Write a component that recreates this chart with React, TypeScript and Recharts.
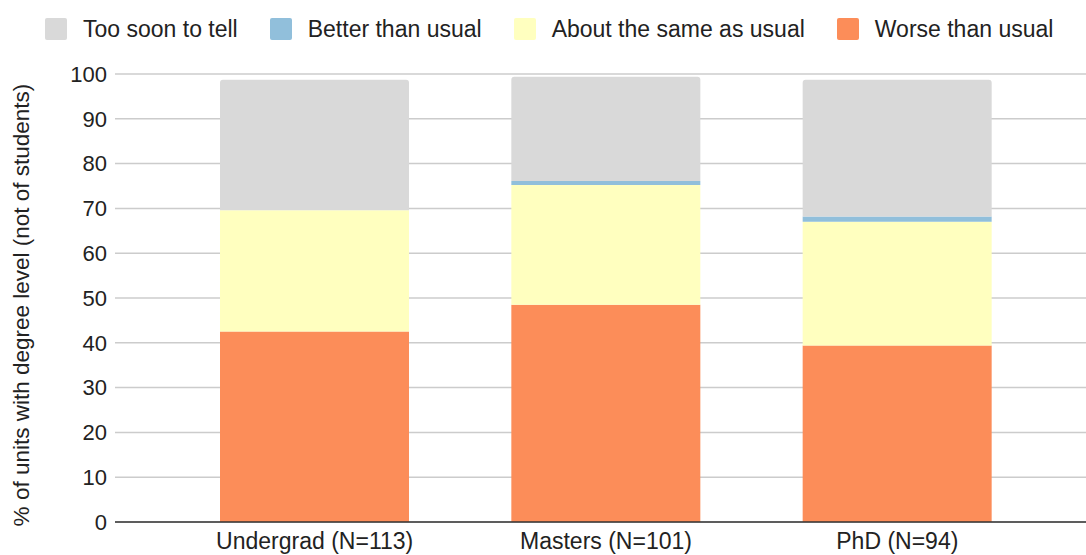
import React from 'react'
import { Bar, BarChart, CartesianGrid, Legend, XAxis, YAxis } from 'recharts'

const categories = ['Undergrad (N=113)', 'Masters (N=101)', 'PhD (N=94)']
const worseThanUsual = [42.5, 48.5, 39.4]
const aboutTheSame = [27.1, 26.7, 27.6]
const betterThanUsual = [0, 0.9, 1.2]
const tooSoonToTell = [29.1, 23.3, 30.5]
const yTicks = [0, 10, 20, 30, 40, 50, 60, 70, 80, 90, 100]

const FONT = '"Liberation Sans", Arial, Helvetica, sans-serif'
const TEXT = '#222222'

const colors = {
  tooSoon: '#d9d9d9',
  better: '#91bfdb',
  same: '#ffffbf',
  worse: '#fc8d59',
}

// legend reads left to right in this order (top of stack first)
const legendItems = [
  { key: 'tooSoon', label: 'Too soon to tell', color: colors.tooSoon },
  { key: 'better', label: 'Better than usual', color: colors.better },
  { key: 'same', label: 'About the same as usual', color: colors.same },
  { key: 'worse', label: 'Worse than usual', color: colors.worse },
]

const data = categories.map((name, i) => ({
  name,
  worse: worseThanUsual[i],
  same: aboutTheSame[i],
  better: betterThanUsual[i],
  tooSoon: tooSoonToTell[i],
}))

function TopLegend() {
  return (
    <div
      style={{
        height: 74,
        display: 'flex',
        alignItems: 'flex-start',
        paddingTop: 18,
        paddingLeft: 45,
        boxSizing: 'border-box',
        fontFamily: FONT,
        fontSize: 23,
        color: TEXT,
      }}
    >
      {legendItems.map((item) => (
        <div key={item.key} style={{ display: 'flex', alignItems: 'center', marginRight: 32 }}>
          <div
            style={{
              width: 22,
              height: 22,
              borderRadius: 2,
              backgroundColor: item.color,
              marginRight: 16,
            }}
          />
          <span style={{ lineHeight: '22px', whiteSpace: 'nowrap' }}>{item.label}</span>
        </div>
      ))}
    </div>
  )
}

function YLabel() {
  const cx = 21
  const cy = 305
  return (
    <text
      x={cx}
      y={cy}
      transform={`rotate(-90 ${cx} ${cy})`}
      textAnchor="middle"
      dominantBaseline="central"
      fontFamily={FONT}
      fontSize={22.5}
      fill={TEXT}
    >
      % of units with degree level (not of students)
    </text>
  )
}

export default function App() {
  return (
    <div style={{ position: 'absolute', left: 0, top: 0, width: 1086, height: 555, background: '#fff' }}>
      <BarChart
        width={1086}
        height={555}
        data={data}
        margin={{ top: 0, right: 0, bottom: 0, left: 0 }}
      >
        <Legend verticalAlign="top" align="left" content={() => <TopLegend />} />
        <CartesianGrid vertical={false} stroke="#cccccc" strokeWidth={1.5} />
        <XAxis
          dataKey="name"
          height={33}
          padding={{ left: 54, right: 43 }}
          tickLine={false}
          tickMargin={5}
          axisLine={{ stroke: '#333333', strokeWidth: 1.5 }}
          tick={{ fontSize: 23, fill: TEXT, fontFamily: FONT }}
          interval={0}
        />
        <YAxis
          width={115}
          domain={[0, 100]}
          ticks={yTicks}
          tickLine={false}
          axisLine={false}
          tick={{ fontSize: 22, fill: TEXT, fontFamily: FONT }}
          label={<YLabel />}
        />
        <Bar dataKey="worse" stackId="s" fill={colors.worse} barSize={189} isAnimationActive={false} />
        <Bar dataKey="same" stackId="s" fill={colors.same} barSize={189} isAnimationActive={false} />
        <Bar dataKey="better" stackId="s" fill={colors.better} barSize={189} isAnimationActive={false} />
        <Bar
          dataKey="tooSoon"
          stackId="s"
          fill={colors.tooSoon}
          barSize={189}
          radius={[3, 3, 0, 0]}
          isAnimationActive={false}
        />
      </BarChart>
    </div>
  )
}
